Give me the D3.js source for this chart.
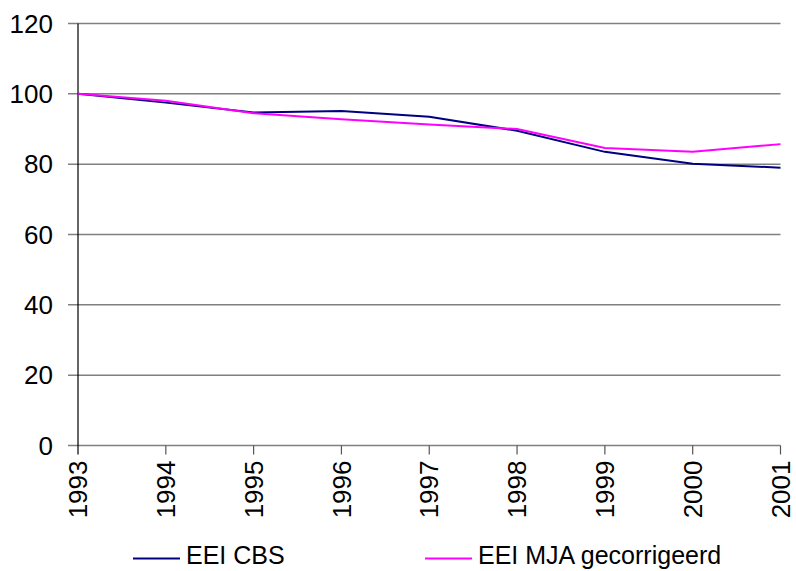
<!DOCTYPE html>
<html lang="nl">
<head>
<meta charset="utf-8">
<title>EEI CBS vs EEI MJA gecorrigeerd</title>
<script src="https://d3js.org/d3.v7.min.js"></script>
<style>
  html, body { margin: 0; padding: 0; background: #fff; }
  text { font-family: "Liberation Sans", Arial, sans-serif; fill: #000; }
  .grid line { stroke: #808080; stroke-width: 1.5px; }
  path.line { fill: none; stroke-width: 2px; }
</style>
</head>
<body>
<script>
// data
var years = [1993, 1994, 1995, 1996, 1997, 1998, 1999, 2000, 2001];
var eeiCBS = [100, 97.5, 94.7, 95.1, 93.5, 89.5, 83.5, 80.1, 79.0];
var eeiMJA = [100, 98.0, 94.5, 92.8, 91.3, 90.0, 84.6, 83.5, 85.7];
var yTicks = [0, 20, 40, 60, 80, 100, 120];
var seriesNames = ["EEI CBS", "EEI MJA gecorrigeerd"];
var seriesColors = ["#000080", "#ff00ff"];

var w = 796, h = 571;
var plotLeft = 78, plotRight = 780.5, plotTop = 23.5, plotBottom = 445.5;

var svg = d3.select("body").append("svg")
    .attr("width", w)
    .attr("height", h);

var x = d3.scalePoint()
    .domain(years)
    .range([plotLeft, plotRight]);

var y = d3.scaleLinear()
    .domain([0, 120])
    .range([plotBottom, plotTop]);

// horizontal gridlines (also act as y ticks)
svg.append("g")
    .attr("class", "grid")
    .selectAll("line")
    .data(yTicks)
    .enter().append("line")
    .attr("x1", plotLeft - 10)
    .attr("x2", plotRight)
    .attr("y1", d => y(d))
    .attr("y2", d => y(d));

// y tick labels
svg.append("g")
    .selectAll("text")
    .data(yTicks)
    .enter().append("text")
    .attr("x", 53)
    .attr("y", d => y(d))
    .attr("dy", "0.35em")
    .attr("text-anchor", "end")
    .style("font-size", "26px")
    .text(d => d);

// y axis line
svg.append("line")
    .attr("x1", plotLeft).attr("x2", plotLeft)
    .attr("y1", plotTop).attr("y2", plotBottom + 9)
    .attr("stroke", "#000")
    .attr("stroke-width", 1.2);

// x ticks
var xg = svg.append("g");
xg.selectAll("line")
    .data(years.slice(1))
    .enter().append("line")
    .attr("x1", d => x(d)).attr("x2", d => x(d))
    .attr("y1", plotBottom).attr("y2", plotBottom + 9)
    .attr("stroke", "#555")
    .attr("stroke-width", 1.2);

xg.selectAll("text")
    .data(years)
    .enter().append("text")
    .attr("transform", d => "translate(" + x(d) + "," + (plotBottom + 15) + ") rotate(-90)")
    .attr("dy", "0.35em")
    .attr("text-anchor", "end")
    .style("font-size", "26px")
    .text(d => d);

// lines
var line = d3.line()
    .x((d, i) => x(years[i]))
    .y(d => y(d));

[eeiCBS, eeiMJA].forEach(function(s, i) {
    svg.append("path")
        .datum(s)
        .attr("class", "line")
        .attr("stroke", seriesColors[i])
        .attr("d", line);
});

// legend
var legendX = [133, 425];
var legend = svg.append("g");
seriesNames.forEach(function(name, i) {
    legend.append("line")
        .attr("x1", legendX[i]).attr("x2", legendX[i] + 47)
        .attr("y1", 558.5).attr("y2", 558.5)
        .attr("stroke", seriesColors[i])
        .attr("stroke-width", 2);
    legend.append("text")
        .attr("x", legendX[i] + 53)
        .attr("y", 563.5)
        .style("font-size", "25px")
        .text(name);
});
</script>
</body>
</html>
